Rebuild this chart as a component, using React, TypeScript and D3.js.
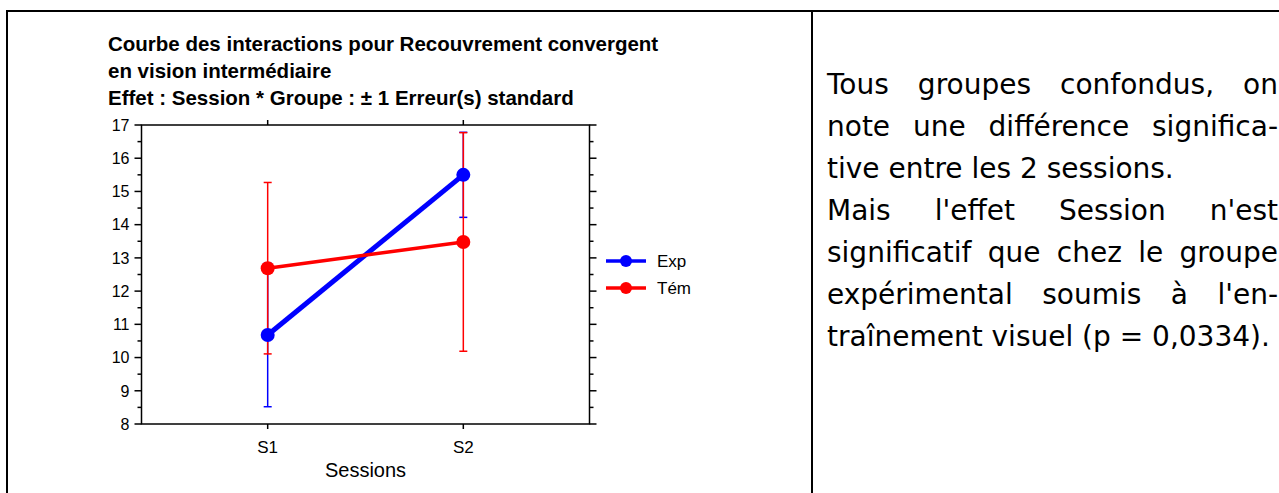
import React, { useLayoutEffect, useRef } from "react";
import * as d3 from "d3";

const sessions = ["S1", "S2"];
const groups = ["Exp", "Tém"];
const expMeans = [10.68, 15.5];
const expSE = [2.16, 1.28];
const temMeans = [12.69, 13.48];
const temSE = [2.58, 3.29];
const yTicks = [8, 9, 10, 11, 12, 13, 14, 15, 16, 17];
const titleLines = [
  "Courbe des interactions pour Recouvrement convergent",
  "en vision intermédiaire",
  "Effet : Session * Groupe : ± 1 Erreur(s) standard",
];
const noteLines = [
  { text: "Tous groupes confondus, on", justify: true },
  { text: "note une différence significa-", justify: true },
  { text: "tive entre les 2 sessions.", justify: false },
  { text: "Mais l'effet Session n'est", justify: true },
  { text: "significatif que chez le groupe", justify: true },
  { text: "expérimental soumis à l'en-", justify: true },
  { text: "traînement visuel (p = 0,0334).", justify: false },
];

const W = 1279;
const H = 493;
const plot = { left: 141.5, right: 589.5, top: 125, bottom: 424 };
const noteX = 827;
const noteW = 451;

export default function App() {
  const noteRef = useRef<SVGGElement>(null);

  const x = d3.scalePoint<string>().domain(sessions).range([plot.left, plot.right]).padding(0.645);
  const y = d3.scaleLinear().domain([8, 17]).range([plot.bottom, plot.top]);
  const minor = d3.range(8.5, 17, 1);

  const series = [
    { name: groups[0], means: expMeans, se: expSE, color: "#0000ff", width: 5, r: 7 },
    { name: groups[1], means: temMeans, se: temSE, color: "#ff0000", width: 3.5, r: 7 },
  ];
  const line = d3
    .line<number>()
    .x((_, i) => x(sessions[i]) as number)
    .y((d) => y(d));

  useLayoutEffect(() => {
    const g = noteRef.current;
    if (!g) return;
    const texts = g.querySelectorAll("text");
    texts.forEach((t, i) => {
      const info = noteLines[i];
      if (!info.justify) return;
      t.setAttribute("word-spacing", "0");
      const len = (t as SVGTextElement).getComputedTextLength();
      const spaces = info.text.split(" ").length - 1;
      if (spaces > 0) {
        t.setAttribute("word-spacing", String((noteW - len) / spaces));
      }
    });
  }, []);

  const font = "'Liberation Sans', Arial, sans-serif";

  return (
    <svg width={W} height={H} style={{ position: "absolute", left: 0, top: 0, background: "#fff" }}>
      {/* borders */}
      <line x1={6} x2={W} y1={11} y2={11} stroke="#000" strokeWidth={2} />
      <line x1={7} x2={7} y1={10} y2={H} stroke="#000" strokeWidth={2} />
      <line x1={812} x2={812} y1={10} y2={H} stroke="#000" strokeWidth={2} />

      {/* title */}
      <g fontFamily={font} fontWeight="bold" fontSize={20.5} fill="#000">
        {titleLines.map((t, i) => (
          <text key={i} x={108} y={51 + i * 27}>
            {t}
          </text>
        ))}
      </g>

      {/* axes frame */}
      <rect
        x={plot.left}
        y={plot.top}
        width={plot.right - plot.left}
        height={plot.bottom - plot.top}
        fill="none"
        stroke="#000"
        strokeWidth={1.5}
      />
      {yTicks.map((v) => (
        <g key={"t" + v}>
          <line x1={plot.left - 7} x2={plot.left} y1={y(v)} y2={y(v)} stroke="#000" strokeWidth={1.5} />
          <line x1={plot.right} x2={plot.right + 7} y1={y(v)} y2={y(v)} stroke="#000" strokeWidth={1.5} />
          <text
            x={plot.left - 12}
            y={y(v)}
            dy="0.36em"
            textAnchor="end"
            fontFamily={font}
            fontSize={16}
            fill="#000"
          >
            {v}
          </text>
        </g>
      ))}
      {minor.map((v) => (
        <g key={"m" + v}>
          <line x1={plot.left - 4} x2={plot.left} y1={y(v)} y2={y(v)} stroke="#000" strokeWidth={1.5} />
          <line x1={plot.right} x2={plot.right + 4} y1={y(v)} y2={y(v)} stroke="#000" strokeWidth={1.5} />
        </g>
      ))}
      {sessions.map((s) => (
        <g key={s}>
          <line x1={x(s)} x2={x(s)} y1={plot.bottom} y2={plot.bottom + 5} stroke="#000" strokeWidth={1.5} />
          <line x1={x(s)} x2={x(s)} y1={plot.top} y2={plot.top - 5} stroke="#000" strokeWidth={1.5} />
          <text
            x={x(s)}
            y={plot.bottom + 29}
            textAnchor="middle"
            fontFamily={font}
            fontSize={17}
            fill="#000"
          >
            {s}
          </text>
        </g>
      ))}
      <text
        x={(plot.left + plot.right) / 2}
        y={plot.bottom + 53}
        textAnchor="middle"
        fontFamily={font}
        fontSize={20}
        fill="#000"
      >
        Sessions
      </text>

      {/* error bars */}
      {series.map((s) => (
        <g key={"e" + s.name} stroke={s.color} strokeWidth={1.5}>
          {s.means.map((m, i) => {
            const cx = x(sessions[i]) as number;
            return (
              <g key={i}>
                <line x1={cx} x2={cx} y1={y(m - s.se[i])} y2={y(m + s.se[i])} />
                <line x1={cx - 4} x2={cx + 4} y1={y(m - s.se[i])} y2={y(m - s.se[i])} />
                <line x1={cx - 4} x2={cx + 4} y1={y(m + s.se[i])} y2={y(m + s.se[i])} />
              </g>
            );
          })}
        </g>
      ))}

      {/* lines and markers */}
      {series.map((s) => (
        <g key={"l" + s.name}>
          <path d={line(s.means) || ""} fill="none" stroke={s.color} strokeWidth={s.width} />
          {s.means.map((m, i) => (
            <circle key={i} cx={x(sessions[i])} cy={y(m)} r={s.r} fill={s.color} />
          ))}
        </g>
      ))}

      {/* legend */}
      {series.map((s, i) => (
        <g key={"lg" + s.name} transform={`translate(606, ${261 + i * 27})`}>
          <line x1={0} x2={40} y1={0} y2={0} stroke={s.color} strokeWidth={3.5} />
          <circle cx={20} cy={0} r={6} fill={s.color} />
          <text x={51} y={0} dy="0.36em" fontFamily={font} fontSize={17} fill="#000">
            {s.name}
          </text>
        </g>
      ))}

      {/* note text */}
      <g ref={noteRef} fontFamily="'Comic Sans MS', 'DejaVu Sans', sans-serif" fontSize={28} fill="#000">
        {noteLines.map((l, i) => (
          <text key={i} x={noteX} y={94 + i * 42}>
            {l.text}
          </text>
        ))}
      </g>
    </svg>
  );
}
